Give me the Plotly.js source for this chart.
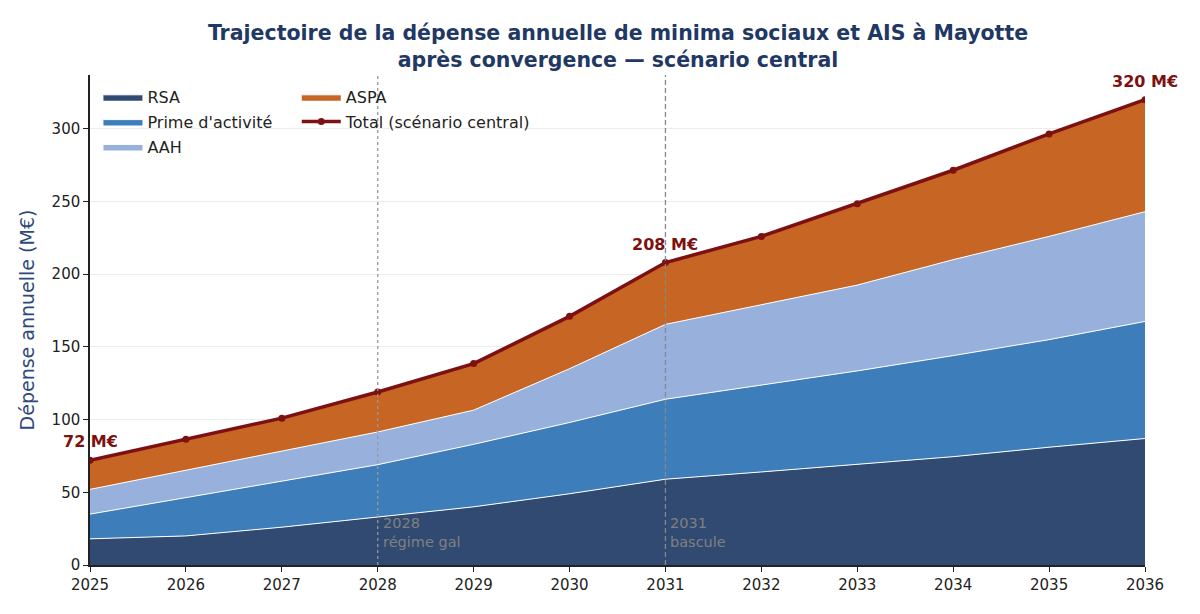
<!DOCTYPE html>
<html>
<head>
<meta charset="utf-8">
<script src="https://cdn.plot.ly/plotly-3.0.1.min.js"></script>
<style>
  html, body { margin: 0; padding: 0; background: #fff; }
  #chart { width: 1200px; height: 614px; }
</style>
</head>
<body>
<div id="chart"></div>
<script>
// years and spending by scheme (M€)
var years = [2025, 2026, 2027, 2028, 2029, 2030, 2031, 2032, 2033, 2034, 2035, 2036];
var rsa   = [18, 20, 26, 33, 40, 49, 59, 64, 69, 74.5, 81, 87];
var prime = [17, 26.5, 31.5, 36, 43, 49, 55, 59.5, 64.5, 69.5, 74, 80.5];
var aah   = [17, 18.5, 20.5, 22.5, 23.5, 37, 51.5, 55.5, 59, 66, 71, 75.5];
var aspa  = [20, 21.5, 23, 27.5, 32, 36, 42.5, 47, 56, 61.5, 70.5, 77];
var total = [72, 86.5, 101, 119, 138.5, 171, 208, 226, 248.5, 271.5, 296.5, 320];

var labelYears = [2025, 2031, 2036];
var markers = [
  { year: 2028, text: '2028<br>régime gal', dash: 'dot', color: '#999999' },
  { year: 2031, text: '2031<br>bascule', dash: '5px,3px', color: '#888888' }
];

var FONT = 'DejaVu Sans, sans-serif';

function area(name, y, color, legend) {
  return {
    x: years, y: y, name: name, type: 'scatter', mode: 'lines',
    stackgroup: 'one', fillcolor: color,
    line: { color: '#ffffff', width: 1 },
    legend: legend, legendgroup: name, hoverinfo: 'x+y+name'
  };
}

var data = [
  area('RSA', rsa, '#304a72', 'legend'),
  area("Prime d'activité", prime, '#3d7eba', 'legend'),
  area('AAH', aah, '#98b0dc', 'legend'),
  area('ASPA', aspa, '#c66524', 'legend2'),
  {
    x: years, y: total, name: 'Total (scénario central)', type: 'scatter',
    mode: 'lines+markers', line: { color: '#7d1111', width: 3.5 },
    marker: { color: '#7d1111', size: 7 },
    legend: 'legend2', legendgroup: 'total'
  }
];

var shapes = markers.map(function (m) {
  return {
    type: 'line', xref: 'x', yref: 'paper', x0: m.year, x1: m.year, y0: 0, y1: 1,
    line: { color: m.color, width: 1.3, dash: m.dash }, layer: 'above'
  };
});

var annotations = markers.map(function (m) {
  return {
    x: m.year, y: 35.5, xref: 'x', yref: 'y', text: m.text, showarrow: false,
    xanchor: 'left', yanchor: 'top', align: 'left', xshift: 3,
    font: { family: FONT, size: 14.5, color: '#808080' }
  };
});

labelYears.forEach(function (yr) {
  var i = years.indexOf(yr);
  annotations.push({
    x: yr, y: total[i], xref: 'x', yref: 'y', text: '<b>' + total[i] + ' M€</b>',
    showarrow: false, yanchor: 'bottom', yshift: 7,
    xanchor: 'center',
    font: { family: FONT, size: 16, color: '#7d1111' }
  });
});

var legendBase = {
  bgcolor: 'rgba(255,255,255,0)', borderwidth: 0,
  font: { family: FONT, size: 16, color: '#222' },
  traceorder: 'grouped', tracegroupgap: 1, itemwidth: 39,
  xanchor: 'left', yanchor: 'top', y: 0.99
};

var layout = {
  width: 1200, height: 614,
  margin: { l: 90, r: 55, t: 75, b: 49 },
  paper_bgcolor: '#ffffff', plot_bgcolor: '#ffffff',
  showlegend: true,
  title: {
    text: '<b>Trajectoire de la dépense annuelle de minima sociaux et AIS à Mayotte<br>après convergence — scénario central</b>',
    x: 0.515, xanchor: 'center', yref: 'container', y: 0.935, yanchor: 'middle',
    font: { family: FONT, size: 20.5, color: '#1f3864' }
  },
  xaxis: {
    range: [2025, 2036], tickmode: 'array', tickvals: years,
    showgrid: false, zeroline: false,
    showline: true, linecolor: '#222', linewidth: 1.5,
    ticks: 'outside', ticklen: 5, tickcolor: '#222',
    tickfont: { family: FONT, size: 15, color: '#222' }
  },
  yaxis: {
    range: [0, 337], tickvals: [0, 50, 100, 150, 200, 250, 300],
    showgrid: true, gridcolor: 'rgba(200,200,200,0.35)', gridwidth: 1,
    zeroline: false, layer: 'above traces',
    showline: true, linecolor: '#222', linewidth: 1.5,
    ticks: 'outside', ticklen: 5, tickcolor: '#222',
    tickfont: { family: FONT, size: 15, color: '#222' },
    title: { text: 'Dépense annuelle (M€)', standoff: 12,
      font: { family: FONT, size: 19, color: '#2f4a7a' } }
  },
  legend: Object.assign({}, legendBase, { x: 0.008 }),
  legend2: Object.assign({}, legendBase, { x: 0.196 }),
  shapes: shapes,
  annotations: annotations
};

Plotly.newPlot('chart', data, layout, { displayModeBar: false });
</script>
</body>
</html>
